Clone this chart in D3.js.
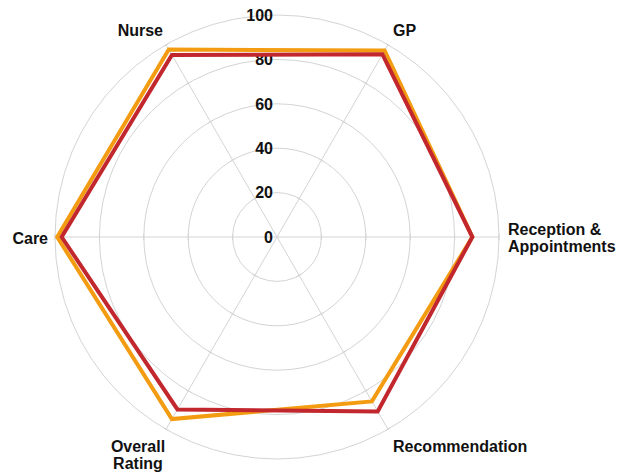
<!DOCTYPE html>
<html>
<head>
<meta charset="utf-8">
<script src="https://cdn.jsdelivr.net/npm/d3@7"></script>
<style>
  body { margin: 0; background: #fff; }
  text { font-family: "Liberation Sans", Arial, sans-serif; font-weight: bold; fill: #111; }
</style>
</head>
<body>
<div id="chart-area"></div>
<script>
// axis categories, clockwise from top right
let categories = ["GP", "Reception & Appointments", "Recommendation", "Overall Rating", "Care", "Nurse"];
let orangeValues = [97, 88, 85.5, 94.7, 99, 97.5];
let redValues = [95, 88, 90.7, 89.7, 97, 94.7];
let tickValues = [0, 20, 40, 60, 80, 100];

let width = 634, height = 472;
let cx = 277, cy = 237, radius = 222;

let svg = d3.select("#chart-area").append("svg")
	.attr("width", width)
	.attr("height", height);

let g = svg.append("g")
	.attr("transform", "translate(" + cx + "," + cy + ")");

let r = d3.scaleLinear().domain([0, 100]).range([0, radius]);

// angle in radians measured clockwise from 12 o'clock
let angle = d3.scaleLinear().domain([0, categories.length]).range([Math.PI / 6, Math.PI / 6 + 2 * Math.PI]);

function pt(i, v) {
	let a = angle(i);
	return [r(v) * Math.sin(a), -r(v) * Math.cos(a)];
}

// rings
g.selectAll("circle.ring")
	.data(tickValues.filter(d => d > 0))
	.enter().append("circle")
	.attr("class", "ring")
	.attr("r", d => r(d))
	.attr("fill", "none")
	.attr("stroke", "#d4d4d4")
	.attr("stroke-width", 1);

// spokes
g.selectAll("line.spoke")
	.data(categories)
	.enter().append("line")
	.attr("class", "spoke")
	.attr("x1", 0).attr("y1", 0)
	.attr("x2", (d, i) => pt(i, 100)[0])
	.attr("y2", (d, i) => pt(i, 100)[1])
	.attr("stroke", "#d4d4d4")
	.attr("stroke-width", 1);

// little tick marks on the spokes
categories.forEach(function(c, i) {
	let a = angle(i);
	let px = Math.cos(a), py = Math.sin(a);
	g.selectAll(null)
		.data(tickValues.filter(d => d > 0))
		.enter().append("line")
		.attr("x1", d => pt(i, d)[0] - px * 3)
		.attr("y1", d => pt(i, d)[1] - py * 3)
		.attr("x2", d => pt(i, d)[0] + px * 3)
		.attr("y2", d => pt(i, d)[1] + py * 3)
		.attr("stroke", "#d4d4d4")
		.attr("stroke-width", 1);
});

// tick labels up the vertical
g.selectAll("text.tick")
	.data(tickValues)
	.enter().append("text")
	.attr("class", "tick")
	.attr("x", -4)
	.attr("y", d => -r(d))
	.attr("dy", "0.36em")
	.attr("text-anchor", "end")
	.attr("font-size", 16)
	.text(d => d);

// series
let line = d3.line()
	.x(d => pt(d.i, d.v)[0])
	.y(d => pt(d.i, d.v)[1])
	.curve(d3.curveLinearClosed);

[[orangeValues, "#f39c12"], [redValues, "#c1272d"]].forEach(function(s) {
	g.append("path")
		.datum(s[0].map((v, i) => ({i: i, v: v})))
		.attr("d", line)
		.attr("fill", "none")
		.attr("stroke", s[1])
		.attr("stroke-width", 4)
		.attr("stroke-linejoin", "miter");
});

// category labels
let labelPos = [
	{x: 116, y: -207, anchor: "start", lines: ["GP"]},
	{x: 231, y: -8, anchor: "start", lines: ["Reception &", "Appointments"]},
	{x: 116, y: 209, anchor: "start", lines: ["Recommendation"]},
	{x: -139, y: 209, anchor: "middle", lines: ["Overall", "Rating"]},
	{x: -229, y: 1, anchor: "end", lines: ["Care"]},
	{x: -114, y: -207, anchor: "end", lines: ["Nurse"]}
];

categories.forEach(function(c, i) {
	let p = labelPos[i];
	let t = g.append("text")
		.attr("x", p.x)
		.attr("y", p.y)
		.attr("text-anchor", p.anchor)
		.attr("font-size", 16);
	p.lines.forEach(function(l, k) {
		t.append("tspan")
			.attr("x", p.x)
			.attr("dy", k === 0 ? "0.36em" : "1.1em")
			.text(l);
	});
});
</script>
</body>
</html>
